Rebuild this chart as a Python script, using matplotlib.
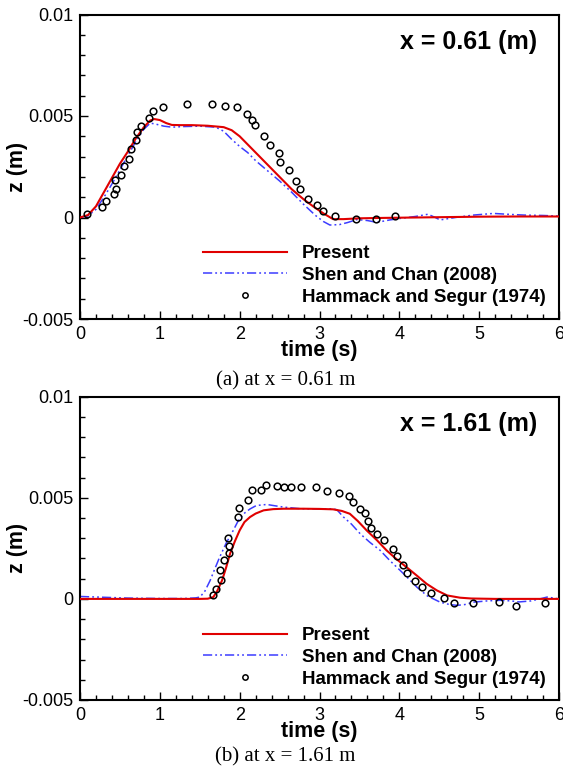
import matplotlib
matplotlib.use("Agg")
import matplotlib.pyplot as plt
from matplotlib.ticker import MultipleLocator, FixedLocator, FixedFormatter

plt.rcParams['font.family'] = ['Liberation Sans', 'DejaVu Sans']

# ---------------- data (z in units of 1e-3 m) ----------------
# (a) x = 0.61 m
a_present_t = [0, 0.1, 0.2, 0.3, 0.4, 0.5, 0.6, 0.7, 0.8, 0.88, 0.93, 1.0, 1.08, 1.15, 1.25, 1.4, 1.6,
               1.8, 1.9, 2.0, 2.1, 2.2, 2.35, 2.5, 2.65, 2.8, 2.92, 3.05, 3.17, 3.3, 3.5, 3.8, 4.2,
               4.6, 5.0, 5.5, 6.0]
a_present_z = [0, 0.12, 0.55, 1.25, 1.95, 2.65, 3.25, 3.9, 4.45, 4.78, 4.85, 4.8, 4.65, 4.56, 4.55,
               4.55, 4.52, 4.45, 4.3, 4.0, 3.6, 3.2, 2.6, 2.0, 1.4, 0.9, 0.55, 0.2, -0.08, -0.08,
               -0.04, -0.02, 0.0, 0.02, 0.04, 0.05, 0.05]

a_shen_t = [0, 0.1, 0.2, 0.3, 0.4, 0.5, 0.6, 0.7, 0.8, 0.88, 0.95, 1.05, 1.15, 1.3, 1.5, 1.7, 1.8,
            1.9, 2.0, 2.1, 2.2, 2.35, 2.5, 2.65, 2.8, 2.95, 3.05, 3.13, 3.25, 3.35, 3.47, 3.6, 3.72,
            3.88, 4.0, 4.2, 4.36, 4.45, 4.51, 4.7, 4.93, 5.18, 5.4, 5.56, 5.8, 6.0]
a_shen_z = [0, 0.08, 0.4, 1.0, 1.65, 2.35, 3.05, 3.75, 4.35, 4.65, 4.6, 4.5, 4.45, 4.48, 4.5, 4.45,
            4.25, 3.85, 3.5, 3.2, 2.8, 2.3, 1.8, 1.25, 0.65, 0.1, -0.2, -0.37, -0.35, -0.25, -0.1,
            -0.15, -0.24, -0.12, -0.05, 0.05, 0.16, 0.0, -0.12, 0.0, 0.12, 0.2, 0.15, 0.12, 0.1, 0.07]

a_exp_t = [0.09, 0.28, 0.33, 0.43, 0.45, 0.44, 0.51, 0.55, 0.62, 0.64, 0.70, 0.71, 0.77, 0.86, 0.92,
           1.04, 1.34, 1.65, 1.82, 1.97, 2.09, 2.16, 2.19, 2.31, 2.38, 2.49, 2.50, 2.62, 2.70, 2.75,
           2.86, 2.97, 3.05, 3.20, 3.46, 3.71, 3.95]
a_exp_z = [0.17, 0.53, 0.83, 1.16, 1.39, 1.83, 2.11, 2.52, 2.87, 3.37, 3.82, 4.22, 4.52, 4.91, 5.26,
           5.42, 5.57, 5.57, 5.47, 5.42, 5.11, 4.80, 4.57, 4.01, 3.57, 3.17, 2.71, 2.32, 1.82, 1.41,
           0.92, 0.63, 0.33, 0.07, -0.07, -0.07, 0.09]

# (b) x = 1.61 m
b_present_t = [0, 1.0, 1.5, 1.6, 1.67, 1.72, 1.78, 1.83, 1.88, 1.94, 2.0, 2.06, 2.13, 2.2, 2.3, 2.42,
               2.55, 2.8, 3.0, 3.17, 3.28, 3.38, 3.48, 3.59, 3.72, 3.84, 3.96, 4.09, 4.22, 4.34, 4.47,
               4.6, 4.76, 4.9, 5.2, 5.6, 6.0]
b_present_z = [0, 0, 0, 0.01, 0.09, 0.4, 0.92, 1.55, 2.24, 2.85, 3.39, 3.8, 4.05, 4.22, 4.38, 4.44,
               4.46, 4.46, 4.45, 4.43, 4.35, 4.21, 3.85, 3.39, 2.9, 2.4, 1.98, 1.57, 1.15, 0.75, 0.42,
               0.17, 0.06, 0.02, 0.0, 0.0, 0.0]

b_shen_t = [0, 0.3, 0.6, 1.0, 1.3, 1.45, 1.5, 1.56, 1.63, 1.69, 1.75, 1.83, 1.92, 1.98, 2.05, 2.13,
            2.21, 2.34, 2.45, 2.55, 2.76, 3.0, 3.17, 3.22, 3.3, 3.4, 3.51, 3.63, 3.76, 3.88, 4.01,
            4.12, 4.22, 4.35, 4.51, 4.62, 4.72, 4.82, 4.93, 5.1, 5.26, 5.4, 5.5, 5.65, 5.78, 5.85,
            5.92, 6.0]
b_shen_z = [0.12, 0.08, 0.04, 0.02, 0.02, 0.05, 0.09, 0.35, 0.91, 1.5, 2.07, 2.75, 3.39, 3.85, 4.21,
            4.45, 4.62, 4.67, 4.6, 4.54, 4.46, 4.45, 4.46, 4.4, 4.05, 3.7, 3.22, 2.8, 2.4, 1.9, 1.41,
            0.98, 0.58, 0.15, -0.16, -0.27, -0.32, -0.28, -0.16, -0.1, -0.07, -0.1, -0.15, -0.1,
            0.02, 0.09, 0.05, 0.0]

b_exp_t = [1.66, 1.70, 1.76, 1.75, 1.80, 1.87, 1.87, 1.85, 1.98, 1.99, 2.11, 2.16, 2.27, 2.33, 2.47,
           2.55, 2.64, 2.77, 2.95, 3.09, 3.24, 3.37, 3.42, 3.51, 3.57, 3.61, 3.65, 3.72, 3.81, 3.92,
           3.97, 4.05, 4.09, 4.19, 4.29, 4.40, 4.56, 4.69, 4.92, 5.25, 5.46, 5.82]
b_exp_z = [0.21, 0.50, 0.91, 1.44, 1.90, 2.27, 2.60, 2.99, 4.05, 4.50, 4.90, 5.40, 5.40, 5.65, 5.59,
           5.54, 5.54, 5.54, 5.54, 5.34, 5.24, 5.11, 4.81, 4.44, 4.25, 3.85, 3.50, 3.20, 2.89, 2.48,
           2.14, 1.69, 1.28, 0.90, 0.58, 0.29, 0.04, -0.21, -0.21, -0.17, -0.37, -0.22]

panels = [
    dict(pt=a_present_t, pz=a_present_z, st=a_shen_t, sz=a_shen_z, et=a_exp_t, ez=a_exp_z,
         title="x = 0.61 (m)", caption="(a) at x = 0.61 m"),
    dict(pt=b_present_t, pz=b_present_z, st=b_shen_t, sz=b_shen_z, et=b_exp_t, ez=b_exp_z,
         title="x = 1.61 (m)", caption="(b) at x = 1.61 m"),
]

yticks = [-0.005, 0, 0.005, 0.01]
yticklabels = ["-0.005", "0", "0.005", "0.01"]
xticks = [0, 1, 2, 3, 4, 5, 6]
xticklabels = ["0", "1", "2", "3", "4", "5", "6"]

W, H = 563, 769
fig = plt.figure(figsize=(W / 100, H / 100), dpi=100)

# axes boxes in pixels: (left, top, right, bottom)
boxes = [(80, 14.5, 559, 319), (80, 396.7, 559, 700)]
caption_y = [381, 757]
legend_y = [0.242, 0.240]

for p, box, cy, ly in zip(panels, boxes, caption_y, legend_y):
    l, t, r, b = box
    ax = fig.add_axes([l / W, 1 - b / H, (r - l) / W, (b - t) / H])
    ax.plot(p['pt'], [v * 1e-3 for v in p['pz']], color='#e00000', lw=1.5, label='Present', zorder=3)
    ax.plot(p['st'], [v * 1e-3 for v in p['sz']], color='#3c3cff', lw=1.1,
            linestyle=(0, (6, 2, 1.2, 2, 1.2, 2)), label='Shen and Chan (2008)', zorder=2)
    ax.plot(p['et'], [v * 1e-3 for v in p['ez']], linestyle='none', marker='o', markersize=4.8,
            markerfacecolor='none', markeredgecolor='black', markeredgewidth=1.1,
            label='Hammack and Segur (1974)', zorder=4)
    ax.set_xlim(0, 6)
    ax.set_ylim(-0.005, 0.01)
    ax.xaxis.set_major_locator(FixedLocator(xticks))
    ax.xaxis.set_major_formatter(FixedFormatter(xticklabels))
    ax.yaxis.set_major_locator(FixedLocator(yticks))
    ax.yaxis.set_major_formatter(FixedFormatter(yticklabels))
    ax.xaxis.set_minor_locator(MultipleLocator(0.2))
    ax.yaxis.set_minor_locator(MultipleLocator(0.001))
    ax.tick_params(which='both', direction='in', top=False, right=False, width=1.0)
    ax.tick_params(which='major', length=5.8, labelsize=13, pad=5)
    ax.tick_params(which='minor', length=3.6)
    for s in ax.spines.values():
        s.set_linewidth(1.5)
    ax.set_xlabel('time (s)', fontsize=15.5, fontweight='bold')
    ax.xaxis.set_label_coords(0.5, -0.068)
    ax.set_ylabel('z (m)', fontsize=15.5, fontweight='bold')
    ax.yaxis.set_label_coords(-0.108, 0.5)
    ax.text(0.955, 0.91, p['title'], transform=ax.transAxes, ha='right', va='center',
            fontsize=18, fontweight='bold')
    leg = ax.legend(loc='upper left', bbox_to_anchor=(0.257, ly), frameon=False,
                    prop=dict(size=13.5, weight='bold'), handlelength=4.5, handletextpad=0.75,
                    labelspacing=0.24, borderpad=0, borderaxespad=0, markerscale=0.8)
    fig.text(0.507, 1 - cy / H, p['caption'], ha='center', va='center', fontsize=15,
             family=['Liberation Serif', 'DejaVu Serif'])

fig.savefig('out.png', dpi=100)
